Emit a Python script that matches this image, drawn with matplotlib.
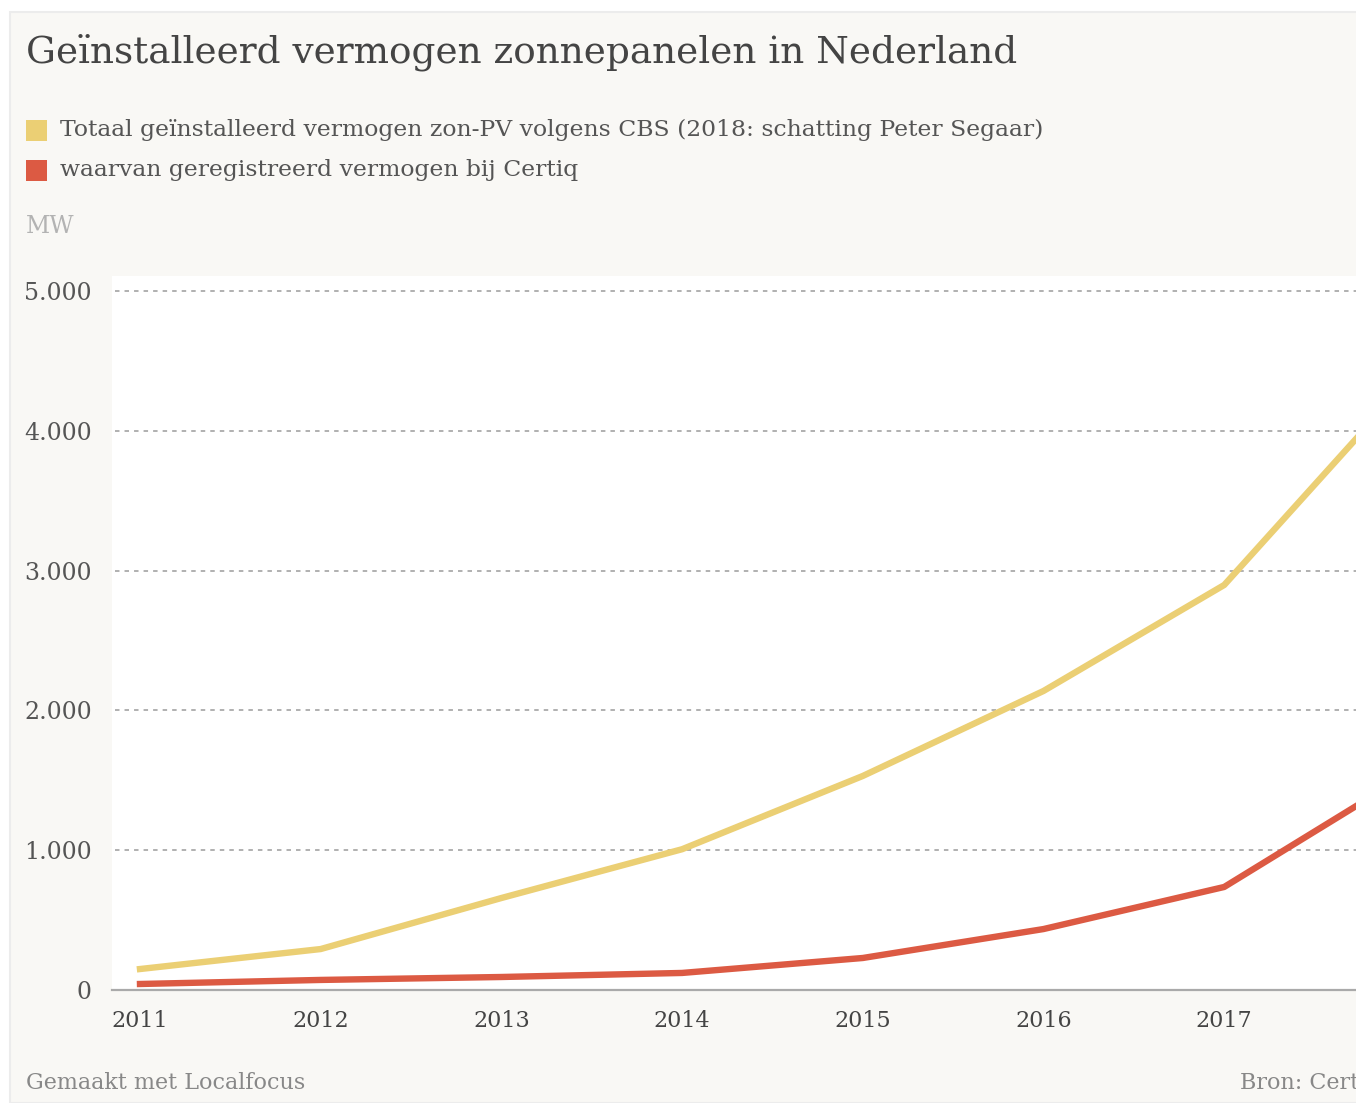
import matplotlib

matplotlib.use("Agg")
import matplotlib.pyplot as plt
from matplotlib.patches import Rectangle

# data (MW)
years = [2011, 2012, 2013, 2014, 2015, 2016, 2017, 2018]
totaal_cbs = [150, 293, 658, 1007, 1531, 2139, 2897, 4330]
certiq = [43, 72, 93, 122, 229, 436, 737, 1530]

series_labels = [
    "Totaal geïnstalleerd vermogen zon-PV volgens CBS (2018: schatting Peter Segaar)",
    "waarvan geregistreerd vermogen bij Certiq",
]
y_ticks = [0, 1000, 2000, 3000, 4000, 5000]
y_tick_labels = ["0", "1.000", "2.000", "3.000", "4.000", "5.000"]
x_ticks = [2011, 2012, 2013, 2014, 2015, 2016, 2017]

YELLOW = "#ebcf74"
RED = "#dc5a43"
CARD = "#f9f8f5"
FONT = "DejaVu Serif"

W, H = 1356, 1103
fig = plt.figure(figsize=(W / 100, H / 100), dpi=100, facecolor="white")


def fx(px):
    return px / W


def fy(py):
    return 1 - py / H


# card background, kept below the axes
fig.patches.append(
    Rectangle((fx(10), 0), 1, fy(12), transform=fig.transFigure,
              facecolor=CARD, edgecolor="#ececec", linewidth=1.5, zorder=-5)
)

fig.text(fx(26), fy(52), "Geïnstalleerd vermogen zonnepanelen in Nederland",
         family=FONT, fontsize=26.9, color="#444444", va="center", ha="left")

for i, (label, color) in enumerate(zip(series_labels, [YELLOW, RED])):
    yc = 130 + 40 * i
    fig.patches.append(
        Rectangle((fx(26), fy(yc + 10.5)), fx(21), 21 / H, transform=fig.transFigure,
                  facecolor=color, edgecolor="none", zorder=-4)
    )
    fig.text(fx(60), fy(yc), label, family=FONT, fontsize=16.9,
             color="#555555", va="center", ha="left")

fig.text(fx(26), fy(227), "MW", family=FONT, fontsize=17, color="#b3b3b3",
         va="center", ha="left")

# plot area: 2011 at px 140, one year = 180.7 px; 0 at py 990, 1000 MW = 139.8 px
px_year = 180.7
x0 = 2011 - (140 - 112) / px_year
x1 = 2011 + (W - 140) / px_year
y_top = 5000 + (291 - 276) / 0.1398
ax = fig.add_axes([fx(112), fy(990), 1 - fx(112), (990 - 276) / H])
ax.set_zorder(1)
ax.set_facecolor("white")
ax.set_xlim(x0, x1)
ax.set_ylim(0, y_top)

for y in y_ticks[1:]:
    ax.axhline(y, xmin=3 / (W - 112), color="#b0b0b0", linewidth=1.4,
               linestyle=(0, (2.3, 2.6)), zorder=1)

ax.plot(years, totaal_cbs, color=YELLOW, linewidth=4.6, solid_joinstyle="round",
        zorder=3)
ax.plot(years, certiq, color=RED, linewidth=4.6, solid_joinstyle="round", zorder=3)

for side in ["top", "right", "left"]:
    ax.spines[side].set_visible(False)
ax.spines["bottom"].set_color("#aaaaaa")
ax.spines["bottom"].set_linewidth(1.6)

ax.set_yticks(y_ticks)
ax.set_yticklabels(y_tick_labels)
ax.set_xticks(x_ticks)
ax.set_xticklabels([str(x) for x in x_ticks])
ax.tick_params(axis="y", length=0, pad=14.4, labelsize=17, labelcolor="#555555")
ax.tick_params(axis="x", length=0, pad=14.5, labelsize=16, labelcolor="#444444")
for lab in ax.get_xticklabels() + ax.get_yticklabels():
    lab.set_family(FONT)

fig.text(fx(26), fy(1083), "Gemaakt met Localfocus", family=FONT, fontsize=16,
         color="#888888", va="center", ha="left")
fig.text(fx(1240), fy(1083), "Bron: Certiq", family=FONT, fontsize=16,
         color="#888888", va="center", ha="left")

fig.savefig("out.png", dpi=100, facecolor=fig.get_facecolor())
